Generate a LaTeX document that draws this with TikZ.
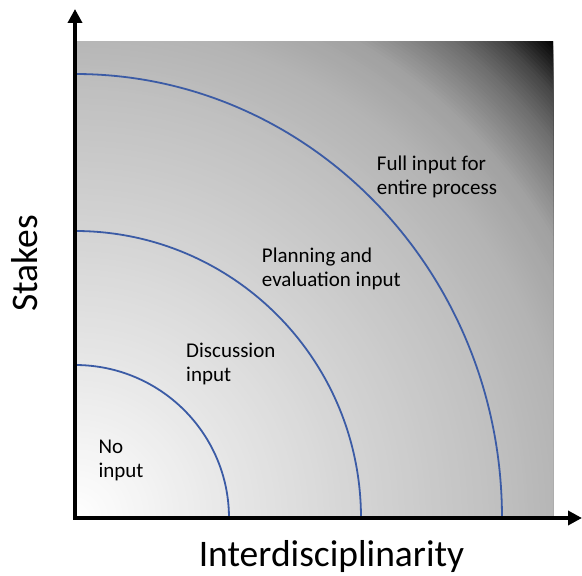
\documentclass[tikz,border=0pt]{standalone}
\usepackage{fontspec}
\setmainfont{Carlito}
\usetikzlibrary{arrows.meta}
\definecolor{arcblue}{RGB}{59,91,165}
\begin{document}
\begin{tikzpicture}[x=1pt,y=1pt,
  arcline/.style={draw=arcblue,line width=1.8pt},
  zonelabel/.style={anchor=base west,inner sep=0pt,align=left,font=\fontsize{21}{24}\selectfont},
  axislabel/.style={inner sep=0pt,anchor=base,font=\fontsize{37.5}{40}\selectfont},
  axisline/.style={line width=4.5pt,{Triangle[width=14pt,length=14pt]}-{Triangle[width=14pt,length=14pt]}}]
\useasboundingbox (-75,-58) rectangle (507,518);
\coordinate (o) at (0,0);
\coordinate (ytop) at (0,509);
\coordinate (xend) at (507,0);
\begin{scope}
  \clip (2,0) rectangle (478,476);
  \fill[black] (2,0) rectangle (478,476);
  \foreach \r in {678,675,...,3} {
    \pgfmathsetmacro{\lv}{9*min(\r,150)/150 + 8*max(0,min(\r,290)-150)/140 + 8*max(0,min(\r,430)-290)/140 + 5*max(0,min(\r,500)-430)/70 + 7*max(0,min(\r,555)-500)/55 + 20*max(0,min(\r,610)-555)/55 + 15*max(0,min(\r,640)-610)/30 + 26*max(0,min(\r,675)-640)/35 + 2*max(0,\r-675)/3}
    \fill[black!\lv] (o) circle[radius=\r];
  }
\end{scope}
\draw[arcline] (154,0) arc[start angle=0,end angle=90,x radius=154,y radius=153];
\draw[arcline] (286,0) arc[start angle=0,end angle=90,x radius=286,y radius=287];
\draw[arcline] (427,0) arc[start angle=0,end angle=90,x radius=427,y radius=444];
\draw[axisline] (ytop) -- (o) -- (xend);
\node[zonelabel] (no) at (23.3,40.5) {No\\input};
\node[zonelabel] (disc) at (111,136) {Discussion\\input};
\node[zonelabel] (plan) at (186.7,231.5) {Planning and\\evaluation input};
\node[zonelabel] (full) at (301.7,323.5) {Full input for\\entire process};
\node[axislabel] (xlab) at (256.5,-48.7) {Interdisciplinarity};
\node[axislabel,rotate=90] (ylab) at (-37.7,254.6) {Stakes};
\end{tikzpicture}
\end{document}
